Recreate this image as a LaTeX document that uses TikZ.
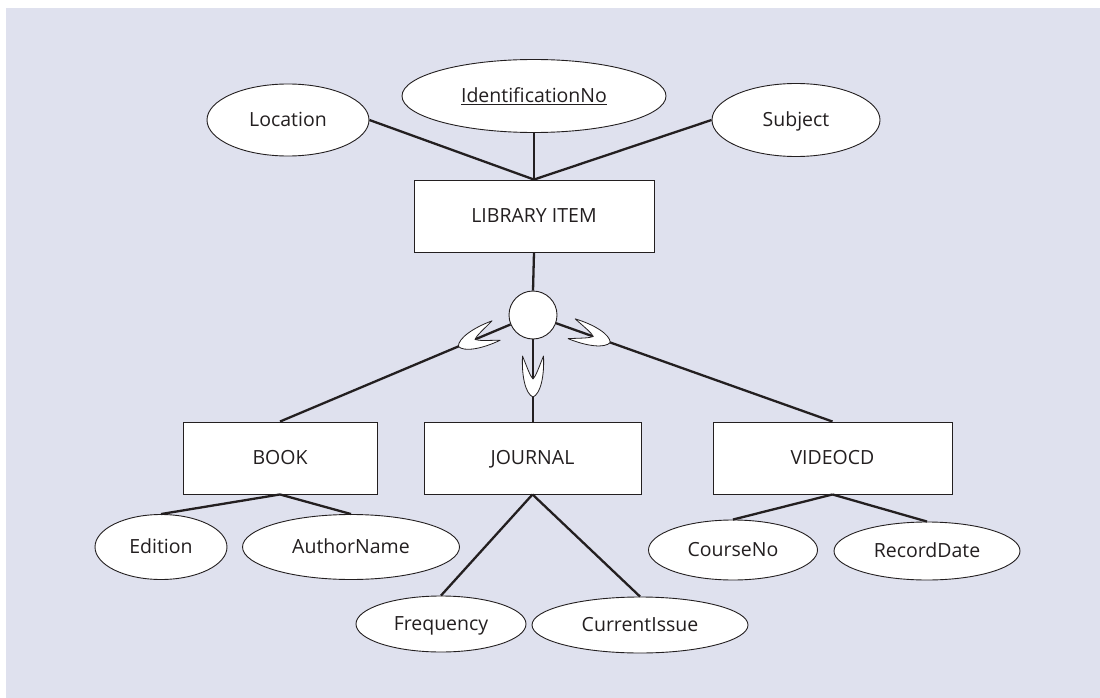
\documentclass[tikz,border=0pt]{standalone}
\usepackage{fontspec}
\setmainfont{Open Sans}
\usetikzlibrary{shapes.geometric,calc}
\definecolor{bgc}{HTML}{DFE1EE}
\definecolor{ink}{HTML}{231F20}
\tikzset{
  every node/.style={font=\fontsize{19.5}{21}\selectfont, text=ink, text height=13.6pt, text depth=0pt},
  attr/.style={ellipse, draw=ink, line width=0.9pt, fill=white, inner sep=0pt},
  ent/.style={rectangle, draw=ink, line width=0.9pt, fill=white, inner sep=0pt, minimum height=72pt},
  conn/.style={draw=ink, line width=2.3pt},
  cupshape/.style={draw=ink, line width=0.8pt, fill=white, line join=round}
}
\newcommand{\cuppath}{(-41,10.5) .. controls (-21,11.5) and (-3,7.5) .. (0,0) .. controls (-3,-7.5) and (-21,-11.5) .. (-41,-10.5) .. controls (-30,-6) and (-21,-3) .. (-18,0) .. controls (-21,3) and (-30,6) .. (-41,10.5) -- cycle}
\begin{document}
\begin{tikzpicture}[x=1pt,y=-1pt]
\useasboundingbox (0,0) rectangle (1100,698);
\fill[bgc] (6,8) rectangle (1100,698);

% attributes of LIBRARY ITEM
\node[attr, minimum width=162pt, minimum height=72pt] (loc) at (288,120) {Location};
\node[attr, minimum width=264pt, minimum height=73pt] (idn) at (534,96) {\underline{IdentificationNo}};
\node[attr, minimum width=168pt, minimum height=73pt] (sub) at (796,120) {Subject};

% entities
\node[ent, minimum width=240pt] (li) at (534,216) {LIBRARY ITEM};
\node[circle, draw=ink, line width=0.9pt, fill=white, minimum size=48pt, inner sep=0pt] (circ) at (533,315) {};
\node[ent, minimum width=194pt] (book) at (280,458) {BOOK};
\node[ent, minimum width=217pt] (jour) at (532.5,458) {JOURNAL};
\node[ent, minimum width=239pt] (vcd) at (832.5,458) {VIDEOCD};

% sub attributes
\node[attr, minimum width=132pt, minimum height=65pt] (edi) at (161,547) {Edition};
\node[attr, minimum width=217pt, minimum height=65pt] (aut) at (351,547) {AuthorName};
\node[attr, minimum width=170pt, minimum height=56pt] (fre) at (441,624) {Frequency};
\node[attr, minimum width=216pt, minimum height=56pt] (cur) at (640,625) {CurrentIssue};
\node[attr, minimum width=169pt, minimum height=60pt] (cou) at (733,550) {CourseNo};
\node[attr, minimum width=186pt, minimum height=58pt] (rec) at (927,551) {RecordDate};

% connectors
\draw[conn] (loc.east) -- (li.north);
\draw[conn] (idn.south) -- (li.north);
\draw[conn] (sub.west) -- (li.north);
\draw[conn] (li.south) -- (circ.north);
\draw[conn] (circ) -- (book.north);
\draw[conn] (circ.south) -- (circ.south |- jour.north);
\draw[conn] (circ) -- (vcd.north);
\draw[conn] (book.south) -- (edi.north);
\draw[conn] (book.south) -- (aut.north);
\draw[conn] (jour.south) -- (fre.north);
\draw[conn] (jour.south) -- (cur.north);
\draw[conn] (vcd.south) -- (cou.north);
\draw[conn] (vcd.south) -- (rec.north);

% subset symbols
\coordinate (cupL) at ($(circ.center)!81pt!(book.north)$);
\coordinate (cupR) at ($(circ.center)!82pt!(vcd.north)$);
\coordinate (cupM) at ($(circ.center)!82pt!(circ.center |- jour.north)$);
\path let \p1=($(book.north)-(circ.center)$), \n1={atan2(\y1,\x1)} in
  [cupshape, shift={(cupL)}, rotate=\n1] \cuppath;
\path let \p1=($(vcd.north)-(circ.center)$), \n1={atan2(\y1,\x1)} in
  [cupshape, shift={(cupR)}, rotate=\n1] \cuppath;
\path [cupshape, shift={(cupM)}, rotate=-90] \cuppath;
\end{tikzpicture}
\end{document}
